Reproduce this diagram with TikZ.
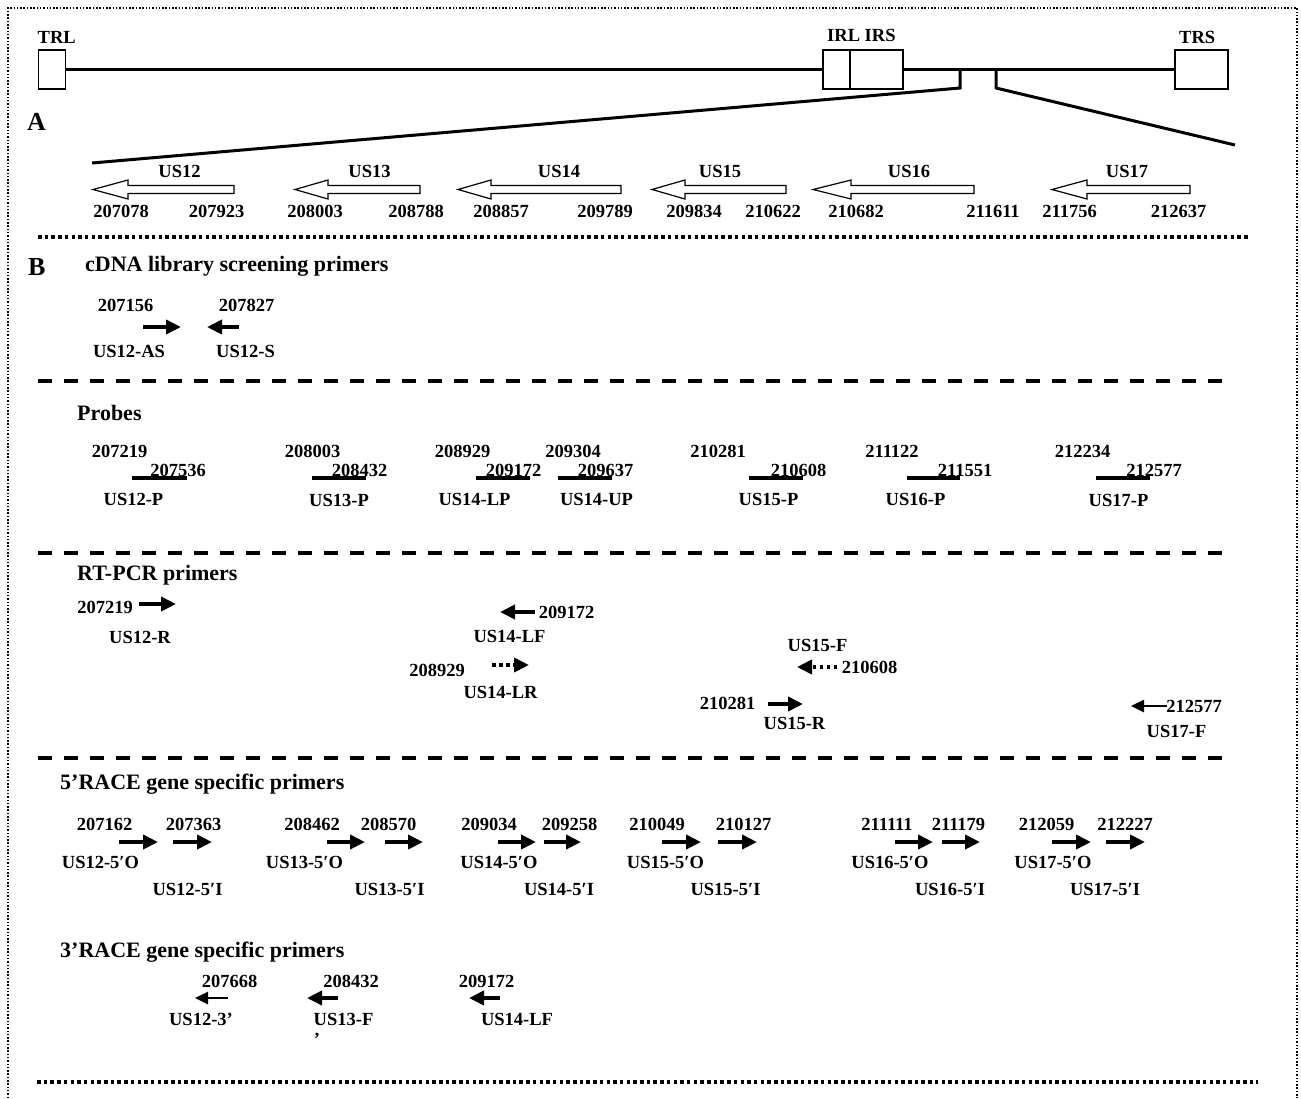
\documentclass[tikz,border=0pt]{standalone}
\usepackage{fontspec}
\setmainfont{Liberation Serif}
\usepackage{tikz}
\usetikzlibrary{arrows.meta,positioning}
\tikzset{
    boxframe/.style={line width=1.4pt,dash pattern=on 1.5pt off 1.8pt},
    dotsep/.style={line width=3.5pt,dash pattern=on 3.5pt off 3.2pt},
    dashsep/.style={line width=4pt,dash pattern=on 14pt off 12pt},
    genome/.style={line width=3pt,line join=miter},
    repeatbox/.style={draw,fill=white,line width=1.4pt,minimum height=39pt,
      inner sep=0pt,outer sep=0pt},
    genearrow/.style={draw,fill=white,line width=1.2pt,line join=miter},
    primer/.style={line width=4pt,-{Triangle[length=15pt,width=14pt]}},
    thinprimer/.style={line width=2.5pt,-{Triangle[length=13pt,width=12pt]}},
    dotprimer/.style={primer,dash pattern=on 3.5pt off 3.5pt},
    probebar/.style={line width=4pt},
    txt/.style={inner sep=0pt,anchor=base,font=\bfseries\fontsize{18.5}{20}\selectfont},
    sechead/.style={inner sep=0pt,anchor=base west,font=\bfseries\fontsize{22}{24}\selectfont},
    panel/.style={inner sep=0pt,anchor=base west,font=\bfseries\fontsize{26}{28}\selectfont}
}

\begin{document}
\begin{tikzpicture}[x=1pt,y=-1pt]
  \useasboundingbox (0,0) rectangle (1301,1098);
  \draw[boxframe] (8,1098) -- (8,8) -- (1297,8) -- (1297,1098);

  % genome
  \node[repeatbox,minimum width=27pt] (trl) at (52,69.5) {};
  \node[repeatbox,minimum width=27pt] (irl) at (836.5,69.5) {};
  \node[repeatbox,minimum width=53pt] (irs) at (876.5,69.5) {};
  \node[repeatbox,minimum width=53pt] (trs) at (1201.5,69.5) {};
  \draw[genome] (trl.east) -- (irl.west) (irs.east) -- (trs.west);
  \node[txt,above right=6pt and -1pt of trl.north west] (trllab) {TRL};
  \node[txt,above right=8pt and 4pt of irl.north west] (irlab) {IRL IRS};
  \node[txt,above right=6pt and 4pt of trs.north west] (trslab) {TRS};
  \coordinate (zl) at (960,69.5);
  \coordinate (zlb) at (960,88);
  \coordinate (zle) at (92,163);
  \coordinate (zr) at (996,69.5);
  \coordinate (zrb) at (996,88);
  \coordinate (zre) at (1235,145);
  \draw[genome] (zl) -- (zlb) -- (zle);
  \draw[genome] (zr) -- (zrb) -- (zre);
  \node[panel] (pa) at (27,130) {A};

  % genes
  \draw[genearrow] (93,189.5) -- (128,180) -- (128,185.5) -- (234,185.5) -- (234,193.5) -- (128,193.5) -- (128,199) -- cycle;
  \draw[genearrow] (295,189.5) -- (328,180) -- (328,185.5) -- (420,185.5) -- (420,193.5) -- (328,193.5) -- (328,199) -- cycle;
  \draw[genearrow] (458,189.5) -- (491,180) -- (491,185.5) -- (621,185.5) -- (621,193.5) -- (491,193.5) -- (491,199) -- cycle;
  \draw[genearrow] (652,189.5) -- (685,180) -- (685,185.5) -- (786,185.5) -- (786,193.5) -- (685,193.5) -- (685,199) -- cycle;
  \draw[genearrow] (813,189.5) -- (851,180) -- (851,185.5) -- (974,185.5) -- (974,193.5) -- (851,193.5) -- (851,199) -- cycle;
  \draw[genearrow] (1052,189.5) -- (1087,180) -- (1087,185.5) -- (1190,185.5) -- (1190,193.5) -- (1087,193.5) -- (1087,199) -- cycle;
  \node[txt] (g12) at (179.5,177) {US12};
  \node[txt] (g13) at (369.5,177) {US13};
  \node[txt] (g14) at (559,177) {US14};
  \node[txt] (g15) at (720,177) {US15};
  \node[txt] (g16) at (909,177) {US16};
  \node[txt] (g17) at (1127,177) {US17};
  \node[txt] (g12a) at (121,217) {207078};
  \node[txt] (g12b) at (216.5,217) {207923};
  \node[txt] (g13a) at (315,217) {208003};
  \node[txt] (g13b) at (416,217) {208788};
  \node[txt] (g14a) at (501,217) {208857};
  \node[txt] (g14b) at (605,217) {209789};
  \node[txt] (g15a) at (694,217) {209834};
  \node[txt] (g15b) at (773,217) {210622};
  \node[txt] (g16a) at (856,217) {210682};
  \node[txt] (g16b) at (993,217) {211611};
  \node[txt] (g17a) at (1069.5,217) {211756};
  \node[txt] (g17b) at (1178.5,217) {212637};
  \draw[dotsep] (38,237) -- (1250,237);

  % cDNA library screening
  \node[panel] (pb) at (28,275) {B};
  \node[sechead] (hcdna) at (85,271) {cDNA library screening primers};
  \node[txt] (c1) at (125.5,311) {207156};
  \node[txt] (c2) at (246.5,311) {207827};
  \draw[primer] (143,327) -- (181,327);
  \draw[primer] (239,327) -- (207,327);
  \node[txt] (c1l) at (129,357) {US12-AS};
  \node[txt] (c2l) at (245.5,357) {US12-S};
  \draw[dashsep] (38,381) -- (1230,381);

  % probes
  \node[sechead] (hprobe) at (77,420) {Probes};
  \draw[probebar] (132,478) -- (187,478);
  \draw[probebar] (312,478) -- (366,478);
  \draw[probebar] (476,478) -- (530,478);
  \draw[probebar] (558,478) -- (612,478);
  \draw[probebar] (749,478) -- (803,478);
  \draw[probebar] (907,478) -- (960,478);
  \draw[probebar] (1096,478) -- (1150,478);
  \node[txt] (p12a) at (119.5,457) {207219};
  \node[txt] (p12b) at (178,476) {207536};
  \node[txt] (p12) at (133.5,505) {US12-P};
  \node[txt] (p13a) at (312.5,457) {208003};
  \node[txt] (p13b) at (359.5,476) {208432};
  \node[txt] (p13) at (339,506) {US13-P};
  \node[txt] (p14a) at (462.5,457) {208929};
  \node[txt] (p14b) at (513.5,476) {209172};
  \node[txt] (p14) at (474.5,505) {US14-LP};
  \node[txt] (p14c) at (573,457) {209304};
  \node[txt] (p14d) at (605.5,476) {209637};
  \node[txt] (p14u) at (596.5,505) {US14-UP};
  \node[txt] (p15a) at (718,457) {210281};
  \node[txt] (p15b) at (798.5,476) {210608};
  \node[txt] (p15) at (768.5,505) {US15-P};
  \node[txt] (p16a) at (892,457) {211122};
  \node[txt] (p16b) at (965,476) {211551};
  \node[txt] (p16) at (915.5,505) {US16-P};
  \node[txt] (p17a) at (1082.5,457) {212234};
  \node[txt] (p17b) at (1154,476) {212577};
  \node[txt] (p17) at (1118.5,506) {US17-P};
  \draw[dashsep] (38,553) -- (1230,553);

  % RT-PCR
  \node[sechead] (hrt) at (77,580) {RT-PCR primers};
  \node[txt] (r12n) at (105,613) {207219};
  \draw[primer] (139,604) -- (176,604);
  \node[txt] (r12) at (140,643) {US12-R};
  \draw[primer] (535,612) -- (500,612);
  \node[txt] (r14n) at (566.5,618) {209172};
  \node[txt] (r14f) at (509.5,642) {US14-LF};
  \node[txt] (r14m) at (437,676) {208929};
  \draw[dotprimer] (492,665) -- (529,665);
  \node[txt] (r14r) at (500.5,698) {US14-LR};
  \node[txt] (r15f) at (817.5,651) {US15-F};
  \draw[dotprimer] (837,667) -- (797,667);
  \node[txt] (r15n) at (869.5,673) {210608};
  \node[txt] (r15m) at (727.5,709) {210281};
  \draw[primer] (768,704) -- (803,704);
  \node[txt] (r15r) at (794.5,729) {US15-R};
  \draw[thinprimer] (1167,706) -- (1131,706);
  \node[txt] (r17n) at (1194,712) {212577};
  \node[txt] (r17f) at (1176.5,737) {US17-F};
  \draw[dashsep] (38,758) -- (1230,758);

  % 5'RACE
  \node[sechead] (h5) at (60,789) {5’RACE gene specific primers};
  \node[txt] (f12a) at (104.5,830) {207162};
  \node[txt] (f12b) at (193.5,830) {207363};
  \draw[primer] (119,842) -- (158,842);
  \draw[primer] (173,842) -- (212,842);
  \node[txt] (f12o) at (100.5,868) {US12-5′O};
  \node[txt] (f12i) at (187.5,895) {US12-5′I};
  \node[txt] (f13a) at (312,830) {208462};
  \node[txt] (f13b) at (388.5,830) {208570};
  \draw[primer] (327,842) -- (365,842);
  \draw[primer] (385,842) -- (423,842);
  \node[txt] (f13o) at (304.5,868) {US13-5′O};
  \node[txt] (f13i) at (389.5,895) {US13-5′I};
  \node[txt] (f14a) at (489,830) {209034};
  \node[txt] (f14b) at (569.5,830) {209258};
  \draw[primer] (498,842) -- (536,842);
  \draw[primer] (544,842) -- (581,842);
  \node[txt] (f14o) at (499,868) {US14-5′O};
  \node[txt] (f14i) at (559,895) {US14-5′I};
  \node[txt] (f15a) at (657,830) {210049};
  \node[txt] (f15b) at (743.5,830) {210127};
  \draw[primer] (662,842) -- (701,842);
  \draw[primer] (718,842) -- (757,842);
  \node[txt] (f15o) at (665.5,868) {US15-5′O};
  \node[txt] (f15i) at (725.5,895) {US15-5′I};
  \node[txt] (f16a) at (887,830) {211111};
  \node[txt] (f16b) at (958.5,830) {211179};
  \draw[primer] (895,842) -- (933,842);
  \draw[primer] (942,842) -- (980,842);
  \node[txt] (f16o) at (890,868) {US16-5′O};
  \node[txt] (f16i) at (950,895) {US16-5′I};
  \node[txt] (f17a) at (1046.5,830) {212059};
  \node[txt] (f17b) at (1125,830) {212227};
  \draw[primer] (1052,842) -- (1091,842);
  \draw[primer] (1106,842) -- (1145,842);
  \node[txt] (f17o) at (1053,868) {US17-5′O};
  \node[txt] (f17i) at (1105,895) {US17-5′I};

  % 3'RACE
  \node[sechead] (h3) at (60,957) {3’RACE gene specific primers};
  \node[txt] (t12n) at (229.5,987) {207668};
  \draw[thinprimer] (228,998) -- (195,998);
  \node[txt] (t12) at (201,1025) {US12-3’};
  \node[txt] (t13n) at (351,987) {208432};
  \draw[primer] (338,998) -- (307,998);
  \node[txt] (t13) at (343.5,1025) {US13-F};
  \node[txt] (t13q) at (317,1045) {’};
  \node[txt] (t14n) at (486.5,987) {209172};
  \draw[primer] (500,998) -- (469,998);
  \node[txt] (t14) at (517,1025) {US14-LF};
  \draw[dotsep] (37,1082) -- (1258,1082);
\end{tikzpicture}
\end{document}
